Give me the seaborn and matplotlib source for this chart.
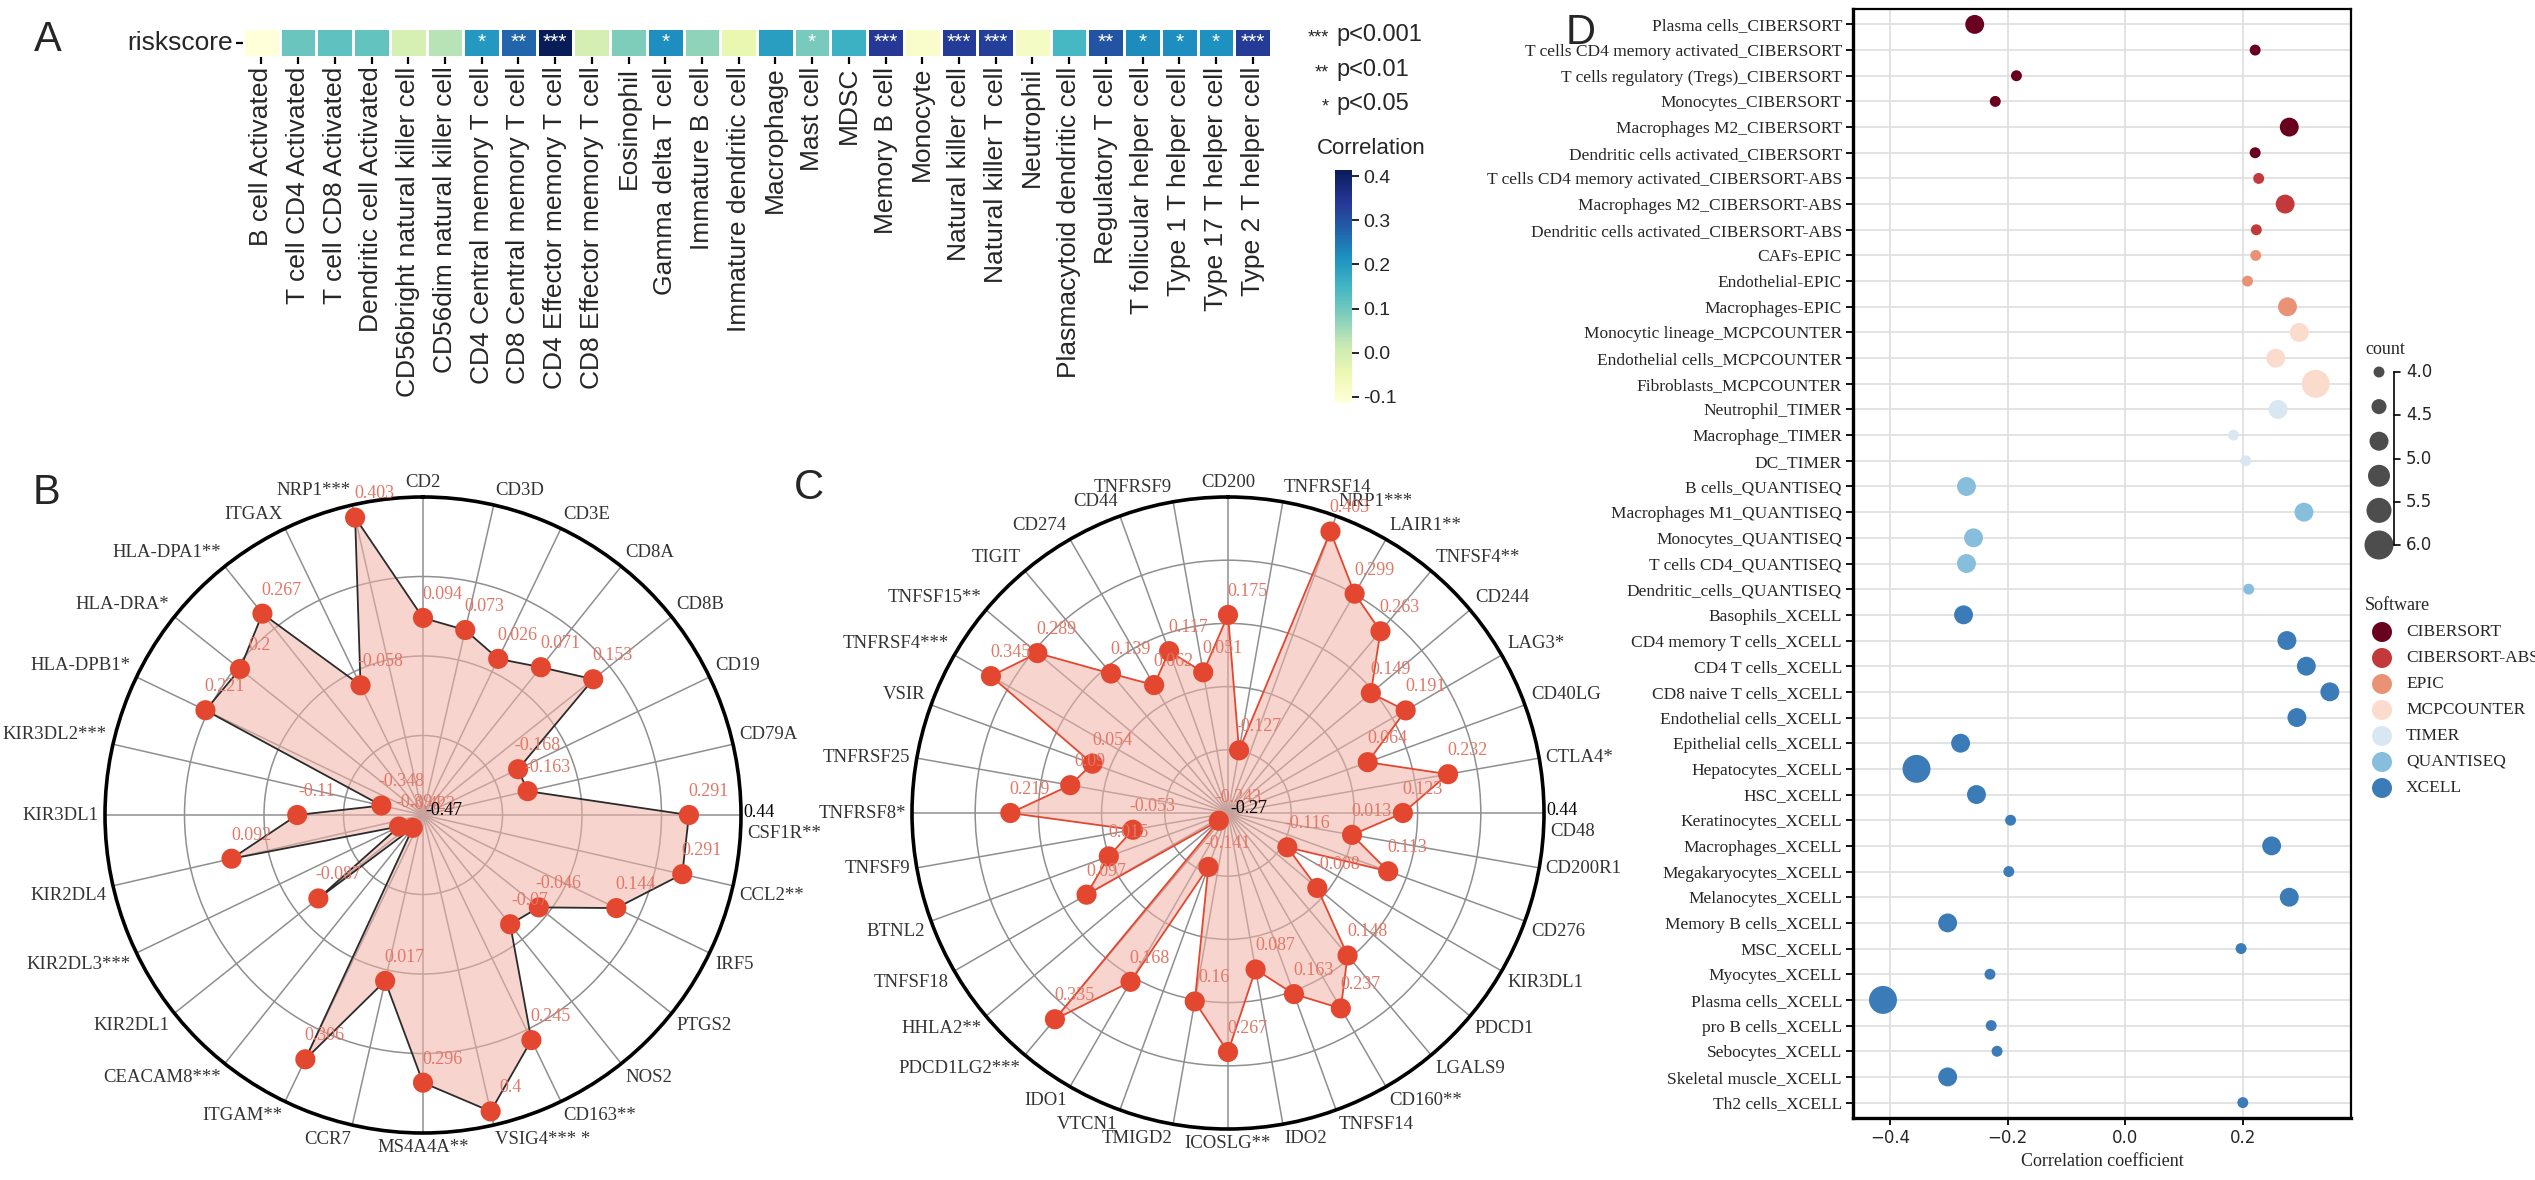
import numpy as np
import pandas as pd
import matplotlib
matplotlib.use("Agg")
import matplotlib.pyplot as plt
import seaborn as sns

W, H = 2535, 1180

# ---------------- panel A : riskscore vs immune cells (ssGSEA)
cells_a = ["B cell Activated", "T cell CD4 Activated", "T cell CD8 Activated",
           "Dendritic cell Activated", "CD56bright natural killer cell",
           "CD56dim natural killer cell", "CD4 Central memory T cell",
           "CD8 Central memory T cell", "CD4 Effector memory T cell",
           "CD8 Effector memory T cell", "Eosinophil", "Gamma delta T cell",
           "Immature B cell", "Immature dendritic cell", "Macrophage", "Mast cell",
           "MDSC", "Memory B cell", "Monocyte", "Natural killer cell",
           "Natural killer T cell", "Neutrophil", "Plasmacytoid dendritic cell",
           "Regulatory T cell", "T follicular helper cell", "Type 1 T helper cell",
           "Type 17 T helper cell", "Type 2 T helper cell"]
corr_a = [-0.114, 0.108, 0.118, 0.113, -0.008, 0.034, 0.203, 0.271, 0.414, -0.003,
          0.084, 0.219, 0.071, -0.04, 0.192, 0.092, 0.16, 0.34, -0.093, 0.335,
          0.33, -0.077, 0.145, 0.298, 0.224, 0.22, 0.215, 0.335]
stars_a = ["", "", "", "", "", "", "*", "**", "***", "", "", "*", "", "", "", "*",
           "", "***", "", "***", "***", "", "", "**", "*", "*", "*", "***"]

# ---------------- panel B : radar of immune genes
genes_b = ["CD2", "CD3D", "CD3E", "CD8A", "CD8B", "CD19", "CD79A", "CSF1R**", "CCL2**",
           "IRF5", "PTGS2", "NOS2", "CD163**", "VSIG4*** *", "MS4A4A**", "CCR7",
           "ITGAM**", "CEACAM8***", "KIR2DL1", "KIR2DL3***", "KIR2DL4", "KIR3DL1",
           "KIR3DL2***", "HLA-DPB1*", "HLA-DRA*", "HLA-DPA1**", "ITGAX", "NRP1***"]
vals_b = [0.094, 0.073, 0.026, 0.071, 0.153, -0.168, -0.163, 0.291, 0.291, 0.144,
          -0.046, -0.07, 0.245, 0.4, 0.296, 0.017, 0.306, -0.423, -0.087, -0.394,
          0.092, -0.110, -0.348, 0.221, 0.2, 0.267, -0.058, 0.403]

# ---------------- panel C : radar of immune checkpoints
genes_c = ["CD200", "TNFRSF14", "NRP1***", "LAIR1**", "TNFSF4**", "CD244", "LAG3*",
           "CD40LG", "CTLA4*", "CD48", "CD200R1", "CD276", "KIR3DL1", "PDCD1", "LGALS9",
           "CD160**", "TNFSF14", "IDO2", "ICOSLG**", "TMIGD2", "VTCN1", "IDO1",
           "PDCD1LG2***", "HHLA2**", "TNFSF18", "BTNL2", "TNFSF9", "TNFRSF8*",
           "TNFRSF25", "VSIR", "TNFRSF4***", "TNFSF15**", "TIGIT", "CD274", "CD44",
           "TNFRSF9"]
vals_c = [0.175, -0.127, 0.403, 0.299, 0.263, 0.149, 0.191, 0.064, 0.232, 0.123,
          0.013, 0.113, -0.116, -0.008, 0.148, 0.237, 0.163, 0.087, 0.267, 0.16,
          -0.141, 0.168, 0.335, -0.243, 0.097, 0.015, -0.053, 0.219, 0.09, 0.054,
          0.345, 0.289, 0.139, 0.062, 0.117, 0.051]

# ---------------- panel D : correlation with several deconvolution tools
cells_d = ["Plasma cells_CIBERSORT", "T cells CD4 memory activated_CIBERSORT",
           "T cells regulatory (Tregs)_CIBERSORT", "Monocytes_CIBERSORT",
           "Macrophages M2_CIBERSORT", "Dendritic cells activated_CIBERSORT",
           "T cells CD4 memory activated_CIBERSORT-ABS", "Macrophages M2_CIBERSORT-ABS",
           "Dendritic cells activated_CIBERSORT-ABS", "CAFs-EPIC", "Endothelial-EPIC",
           "Macrophages-EPIC", "Monocytic lineage_MCPCOUNTER",
           "Endothelial cells_MCPCOUNTER", "Fibroblasts_MCPCOUNTER", "Neutrophil_TIMER",
           "Macrophage_TIMER", "DC_TIMER", "B cells_QUANTISEQ",
           "Macrophages M1_QUANTISEQ", "Monocytes_QUANTISEQ", "T cells CD4_QUANTISEQ",
           "Dendritic_cells_QUANTISEQ", "Basophils_XCELL", "CD4 memory T cells_XCELL",
           "CD4 T cells_XCELL", "CD8 naive T cells_XCELL", "Endothelial cells_XCELL",
           "Epithelial cells_XCELL", "Hepatocytes_XCELL", "HSC_XCELL",
           "Keratinocytes_XCELL", "Macrophages_XCELL", "Megakaryocytes_XCELL",
           "Melanocytes_XCELL", "Memory B cells_XCELL", "MSC_XCELL", "Myocytes_XCELL",
           "Plasma cells_XCELL", "pro B cells_XCELL", "Sebocytes_XCELL",
           "Skeletal muscle_XCELL", "Th2 cells_XCELL"]
coef_d = [-0.256, 0.221, -0.185, -0.221, 0.279, 0.221, 0.227, 0.272, 0.223, 0.222,
          0.208, 0.276, 0.296, 0.256, 0.324, 0.26, 0.184, 0.205, -0.27, 0.304, -0.258,
          -0.27, 0.21, -0.275, 0.275, 0.308, 0.348, 0.292, -0.28, -0.355, -0.253,
          -0.195, 0.249, -0.198, 0.279, -0.302, 0.197, -0.23, -0.412, -0.228, -0.218,
          -0.302, 0.2]
count_d = [5, 4, 4, 4, 5, 4, 4, 5, 4, 4, 4, 5, 5, 5, 6, 5, 4, 4, 5, 5, 5, 5, 4,
           5, 5, 5, 5, 5, 5, 6, 5, 4, 5, 4, 5, 5, 4, 4, 6, 4, 4, 5, 4]
software_d = (["CIBERSORT"] * 6 + ["CIBERSORT-ABS"] * 3 + ["EPIC"] * 3 +
              ["MCPCOUNTER"] * 3 + ["TIMER"] * 3 + ["QUANTISEQ"] * 5 + ["XCELL"] * 20)
soft_names = ["CIBERSORT", "CIBERSORT-ABS", "EPIC", "MCPCOUNTER", "TIMER", "QUANTISEQ", "XCELL"]
soft_colors = ["#6a0020", "#c3393b", "#ea9275", "#fadbcc", "#d8e7f1", "#87bedc", "#3a7bb8"]
count_levels = [4.0, 4.5, 5.0, 5.5, 6.0]


def px(x0, y0, x1, y1):
    # pixel box (top-left origin) -> figure rect
    return [x0 / W, 1 - y1 / H, (x1 - x0) / W, (y1 - y0) / H]


sns.set_theme(style="white")
plt.rcParams["font.family"] = ["Liberation Sans", "DejaVu Sans"]
SERIF = ["Liberation Serif", "DejaVu Serif"]

fig = plt.figure(figsize=(W / 100, H / 100), dpi=100)

# ---------------- A
axA = fig.add_axes(px(243, 28, 1271, 57))
cax = fig.add_axes(px(1335, 170, 1352, 403))
dfA = pd.DataFrame([corr_a], index=["riskscore"], columns=cells_a)
sns.heatmap(dfA, ax=axA, cbar_ax=cax, cmap="YlGnBu", annot=np.array([stars_a]), fmt="",
            annot_kws={"color": "white", "fontsize": 15}, linewidths=2, linecolor="white")
axA.set_xticklabels(cells_a, rotation=90)
axA.set_yticklabels(["riskscore"], rotation=0)
axA.tick_params(axis="both", bottom=True, left=True, length=5, width=1.6,
                color="black", pad=2, labelsize=19)
axA.set_xlabel("")
axA.set_ylabel("")
cax.set_yticks([-0.1, 0.0, 0.1, 0.2, 0.3, 0.4])
cax.set_yticklabels(["-0.1", "0.0", "0.1", "0.2", "0.3", "0.4"])
cax.tick_params(right=True, length=5, width=1.2, labelsize=14, pad=3, color="black")


# ---------------- B and C radars
def radar(rect, genes, vals, rmin, rmax, nseg, edge):
    ax = fig.add_axes(rect, projection="polar")
    n = len(genes)
    theta = np.arange(n) * 2 * np.pi / n
    ax.set_theta_offset(np.pi / 2)
    ax.set_theta_direction(-1)
    ax.set_ylim(rmin, rmax)
    ax.set_xticks(theta)
    ax.set_xticklabels([])
    ax.set_yticks(np.linspace(rmin, rmax, nseg + 1)[1:-1])
    ax.set_yticklabels([])
    ax.grid(True, color="#8f8f8f", linewidth=1.1)
    ax.spines["polar"].set_color("black")
    ax.spines["polar"].set_linewidth(2.6)
    vals = np.asarray(vals)
    t = np.append(theta, theta[0])
    v = np.append(vals, vals[0])
    ax.fill(t, v, color="#f2b3a6", alpha=0.55, zorder=2, lw=0)
    ax.plot(t, v, color=edge, lw=1.3, zorder=3)
    ax.scatter(theta, vals, s=210, color="#e4472f", zorder=4, edgecolors="none")
    for th, val in zip(theta, vals):
        ax.annotate(f"{val:g}", (th, val), xytext=(14, 17), textcoords="offset points",
                    ha="center", va="center", color="#e27767", fontsize=13,
                    family=SERIF, zorder=5)
    rl = rmax + (rmax - rmin) * 0.02
    for th, g in zip(theta, genes):
        phi = np.pi / 2 - th
        c, s = np.cos(phi), np.sin(phi)
        ha = "left" if c > 0.05 else ("right" if c < -0.05 else "center")
        va = "bottom" if s > 0.2 else ("top" if s < -0.2 else "center")
        dy = 0
        if abs(s) < 1e-6 and c > 0:
            va, dy = "top", -7
        ax.annotate(g, (th, rl), xytext=(0, dy), textcoords="offset points", ha=ha,
                    va=va, fontsize=13.5, family=SERIF, color="#333333",
                    annotation_clip=False)
    ax.annotate(f"{rmin:g}", (0, rmin), xytext=(2, 3), textcoords="offset points",
                ha="left", va="center", fontsize=13, family=SERIF, color="black", zorder=6)
    ax.annotate(f"{rmax:g}", (np.pi / 2, rmax), xytext=(2, 2), textcoords="offset points",
                ha="left", va="center", fontsize=13, family=SERIF, color="black",
                annotation_clip=False)
    return ax


radar(px(105, 497, 741, 1133), genes_b, vals_b, -0.47, 0.44, 4, "#2b2b2b")
radar(px(912, 497, 1544, 1129), genes_c, vals_c, -0.27, 0.44, 5, "#e4472f")

# ---------------- D
axD = fig.add_axes(px(1853, 9, 2351, 1118))
dfD = pd.DataFrame({"cell": cells_d, "coef": coef_d, "count": count_d,
                    "software": software_d})
sns.scatterplot(data=dfD, x="coef", y="cell", hue="software", hue_order=soft_names,
                palette=dict(zip(soft_names, soft_colors)), size="count",
                sizes={4: 62, 5: 185, 6: 405}, linewidth=0, legend=False, ax=axD,
                zorder=3)
axD.set_xlim(-0.463, 0.384)
axD.set_ylim(len(cells_d) - 0.4, -0.6)
axD.set_xticks([-0.4, -0.2, 0.0, 0.2])
axD.grid(True, color="#dedede", linewidth=1.2)
axD.set_axisbelow(True)
for sp in axD.spines.values():
    sp.set_visible(True)
    sp.set_color("black")
    sp.set_linewidth(1.6)
axD.spines["left"].set_linewidth(2.4)
axD.spines["bottom"].set_linewidth(2.4)
axD.tick_params(left=True, bottom=True, length=5, width=1.3, color="black", pad=3)
plt.setp(axD.get_yticklabels(), family=SERIF, fontsize=12.5)
plt.setp(axD.get_xticklabels(), family="DejaVu Sans", fontsize=12)
axD.set_xlabel("Correlation coefficient", family=SERIF, fontsize=13)
axD.set_ylabel("")

# ---------------- overlay: panel letters and legends
ov = fig.add_axes([0, 0, 1, 1], zorder=10)
ov.set_xlim(0, W)
ov.set_ylim(H, 0)
ov.axis("off")
ov.patch.set_alpha(0)

for lab, x, y in [("A", 48, 40), ("B", 47, 493), ("C", 809, 488), ("D", 1581, 33)]:
    ov.text(x, y, lab, fontsize=30, ha="center", va="center")

for i, (st, p) in enumerate([("***", "p<0.001"), ("**", "p<0.01"), ("*", "p<0.05")]):
    y = [35, 70, 104][i]
    ov.text(1329, y + 3, st, fontsize=13, ha="right", va="center")
    ov.text(1336, y, p, fontsize=17, ha="left", va="center")
ov.text(1317, 148, "Correlation", fontsize=16, ha="left", va="center")

# count legend
ov.text(2365, 349, "count", family=SERIF, fontsize=13, ha="left", va="center")
dot_y = np.linspace(372, 545, 6)
ov.scatter([2379] * 6, dot_y, s=[62, 117, 187, 250, 324, 436], color="#4d4d4d",
           edgecolors="none")
lab_y = np.linspace(372, 545, len(count_levels))
ov.plot([2394, 2394], [lab_y[0], lab_y[-1]], color="black", lw=1.2)
for y, lv in zip(lab_y, count_levels):
    ov.plot([2394, 2400], [y, y], color="black", lw=1.2)
    ov.text(2406, y, f"{lv:.1f}", family="DejaVu Sans", fontsize=12, ha="left", va="center")

# software legend
ov.text(2365, 606, "Software", family=SERIF, fontsize=13, ha="left", va="center")
for i, (nm, col) in enumerate(zip(soft_names, soft_colors)):
    y = 632 + 26 * i
    ov.scatter([2382], [y], s=207, color=col, edgecolors="none")
    ov.text(2406, y, nm, family=SERIF, fontsize=12.5, ha="left", va="center")

fig.savefig("out.png", dpi=100)
